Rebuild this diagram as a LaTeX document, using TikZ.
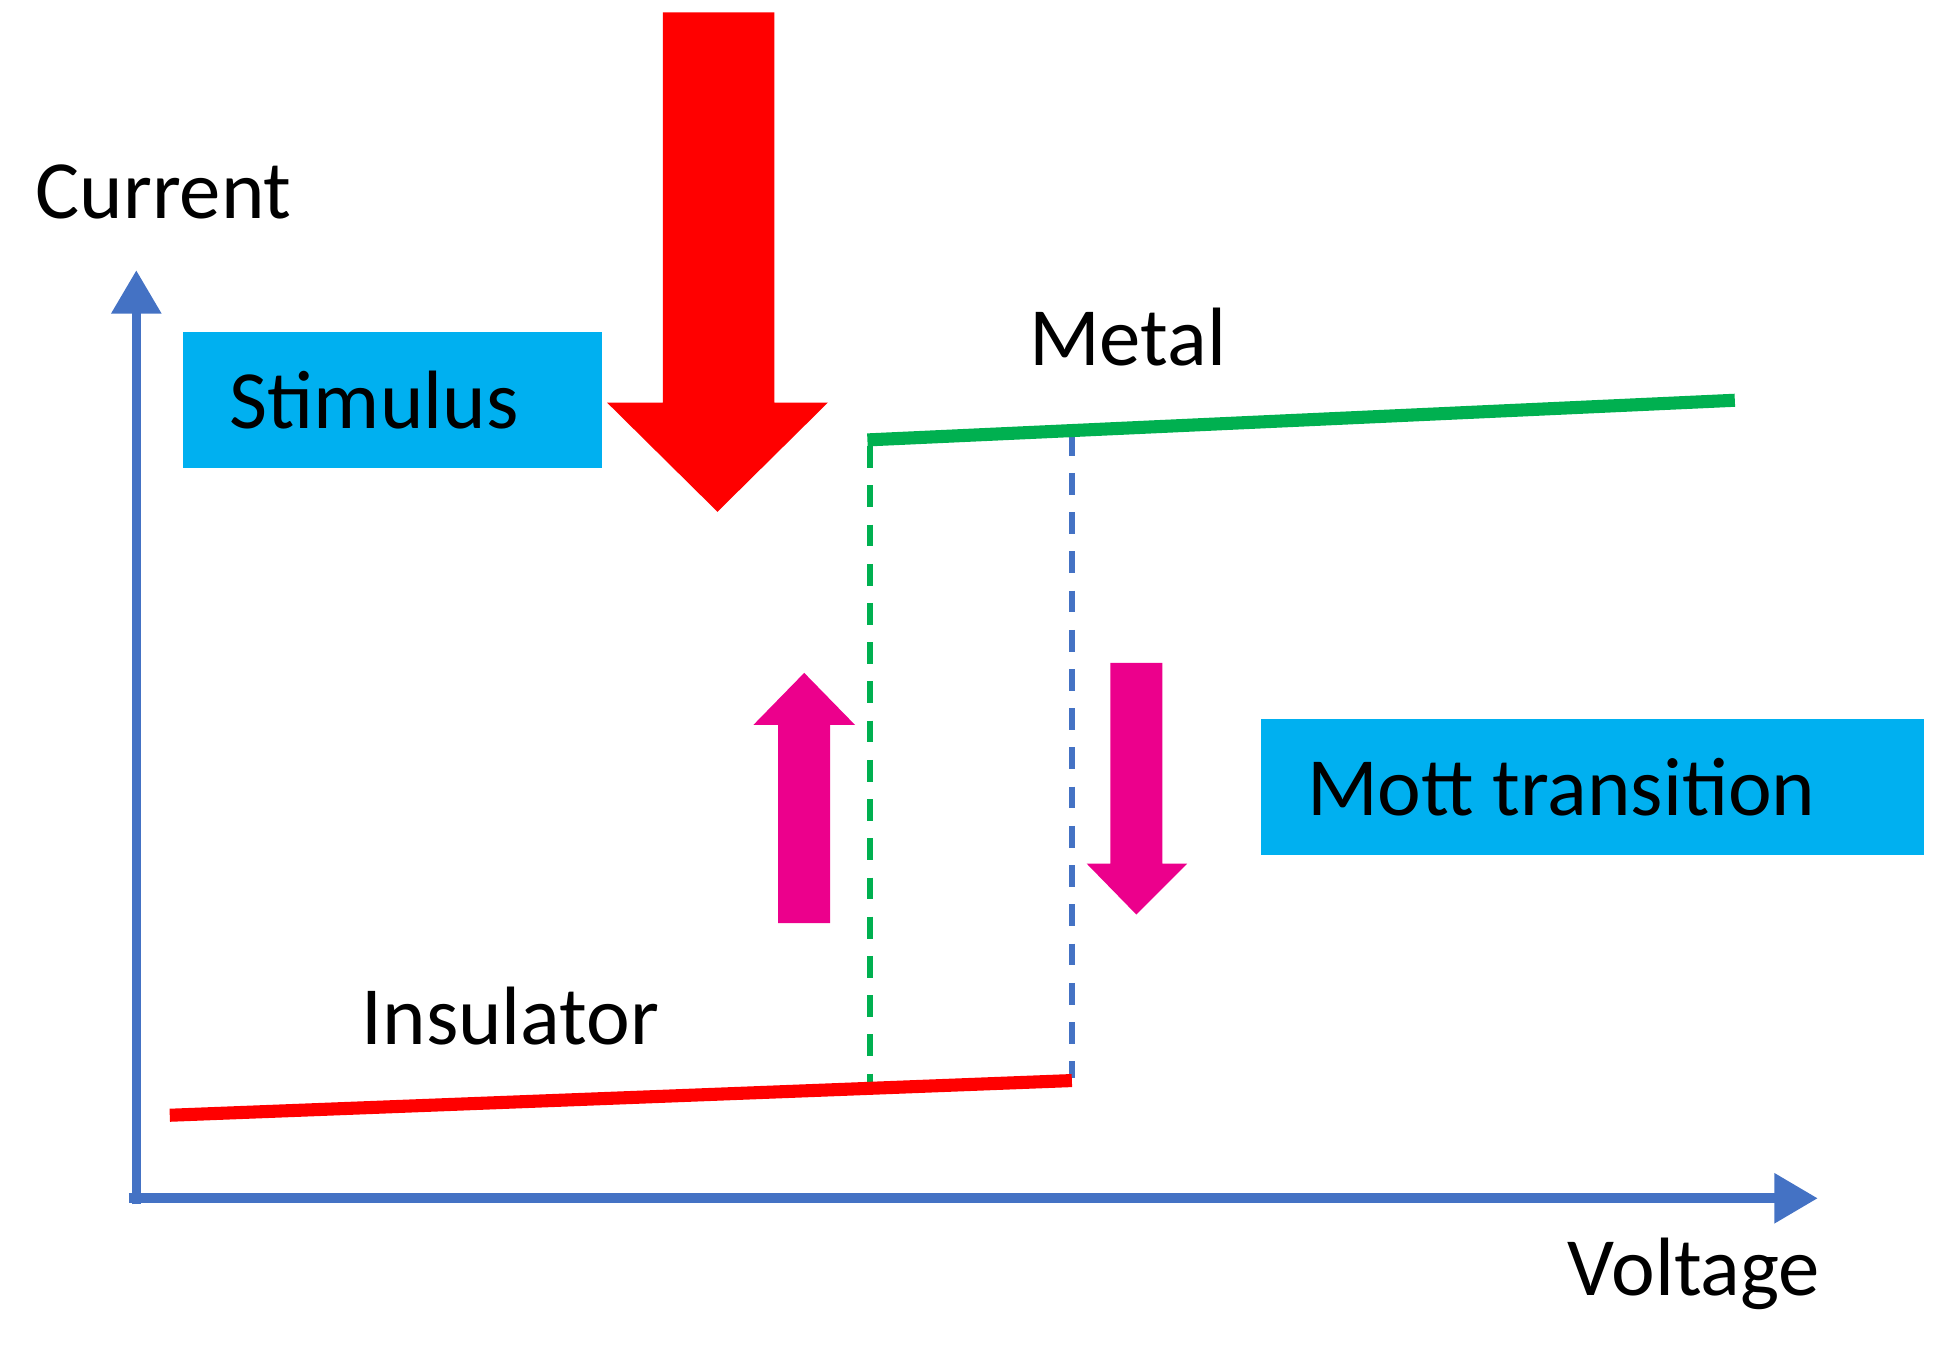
\documentclass[tikz,border=0pt]{standalone}
\usepackage{fontspec}
\setmainfont{Carlito}
\usetikzlibrary{arrows.meta}
\definecolor{axisblue}{RGB}{68,114,196}
\definecolor{boxcyan}{RGB}{0,176,240}
\definecolor{metalgreen}{RGB}{0,176,80}
\begin{document}
\begin{tikzpicture}[x=0.01cm,y=-0.01cm,
  lbl/.style={font=\fontsize{19}{22}\selectfont,inner sep=0pt},
  box/.style={fill=boxcyan,font=\fontsize{19}{22}\selectfont,minimum height=1.1cm,inner sep=0pt},
  axis/.style={axisblue,line width=2.2pt,-{Triangle[length=10pt,width=11pt]}},
  curve/.style={line width=3pt},
  guide/.style={line width=1.3pt,dash pattern=on 5pt off 4pt}]
\useasboundingbox (0,0) rectangle (1568,1090);
% axes
\coordinate (o) at (110,967);
\coordinate (ytop) at (110,218);
\coordinate (xend) at (1467,967);
\draw[axis] (110,972) -- (ytop);
\draw[axis] (104,967) -- (xend);
\node[lbl] (cur) at (132,155) {Current};
\node[lbl] (volt) at (1367,1028) {Voltage};
% boxes
\node[box,minimum width=3.38cm] (stim) at (317,323) {\hspace*{-0.3cm}Stimulus};
\node[box,minimum width=5.35cm] (mott) at (1285,635) {\hspace*{-0.5cm}Mott transition};
% stimulus arrow
\fill[red] (535,10) -- (625,10) -- (625,325) -- (668,325) -- (579,413)
  -- (490,325) -- (535,325) -- cycle;
% magenta arrows
\fill[magenta] (628,745) -- (670,745) -- (670,585) -- (690,585) -- (649,543)
  -- (608,585) -- (628,585) -- cycle;
\fill[magenta] (896,535) -- (938,535) -- (938,697) -- (958,697) -- (917,738)
  -- (877,697) -- (896,697) -- cycle;
% branches
\coordinate (m0) at (700,355);
\coordinate (m1) at (1400,323);
\coordinate (i0) at (137,900);
\coordinate (i1) at (865,872);
\draw[guide,metalgreen] (702,360) -- (702,880);
\draw[guide,axisblue] (865,350) -- (865,870);
\draw[curve,metalgreen] (m0) -- (m1);
\draw[curve,red] (i0) -- (i1);
\node[lbl] (metal) at (910,272) {Metal};
\node[lbl] (ins) at (412,820) {Insulator};
\end{tikzpicture}
\end{document}
